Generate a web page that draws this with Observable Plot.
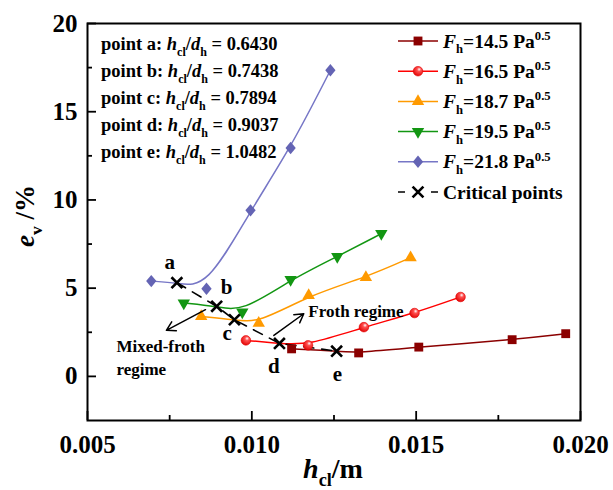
<!DOCTYPE html>
<html><head><meta charset="utf-8">
<script src="https://cdn.jsdelivr.net/npm/d3@7"></script>
<script src="https://cdn.jsdelivr.net/npm/@observablehq/plot@0.6"></script>
<style>
body{margin:0;background:#fff}
g[aria-label$="tick label"] text, g[aria-label$="tick label"]{font-weight:bold}
</style>
</head><body><div id="chart"></div>
<script>
// ---- data ----
const fhLabels = ["14.5", "16.5", "18.7", "19.5", "21.8"];
const hcl_145 = [0.01121, 0.01325, 0.01508, 0.01792, 0.01955];
const ev_145  = [1.56, 1.33, 1.66, 2.08, 2.42];
const hcl_165 = [0.00982, 0.01171, 0.01341, 0.01495, 0.01635];
const ev_165  = [2.04, 1.76, 2.79, 3.59, 4.50];
const hcl_187 = [0.00846, 0.01021, 0.01173, 0.01347, 0.01483];
const ev_187  = [3.40, 3.02, 4.59, 5.61, 6.73];
const hcl_195 = [0.00793, 0.00971, 0.01118, 0.01260, 0.01394];
const ev_195  = [4.16, 3.65, 5.48, 6.79, 8.09];
const hcl_218 = [0.00694, 0.00862, 0.00996, 0.01118, 0.01239];
const ev_218  = [5.40, 4.97, 9.41, 12.94, 17.35];

const critLabels = ["a", "b", "c", "d", "e"];
const critRatio  = ["0.6430", "0.7438", "0.7894", "0.9037", "1.0482"];
const critHcl    = [0.00772, 0.00893, 0.00947, 0.01084, 0.01258];
const critEv     = [5.31, 3.97, 3.21, 1.87, 1.43];
const critSeries = ["21.8", "19.5", "18.7", "16.5", "14.5"];

const labelHcl = [0.00750, 0.00923, 0.00925, 0.01067, 0.01260];
const labelEv  = [6.45, 5.03, 2.45, 0.57, 0.11];

const regimeText = ["Mixed-froth\nregime", "Froth regime"];
const regimeHcl  = [0.00588, 0.01172];
const regimeEv   = [1.13, 3.78];

const arrowHcl1 = [0.00859, 0.01067];
const arrowEv1  = [3.78, 2.32];
const arrowHcl2 = [0.00740, 0.01158];
const arrowEv2  = [2.61, 3.55];

const xMajor = [0.005, 0.010, 0.015, 0.020];
const xMinor = [0.0075, 0.0125, 0.0175];
const yMajor = [0, 5, 10, 15, 20];
const yMinor = [2.5, 7.5, 12.5, 17.5];

// ---- styles ----
const colors  = ["#8B0000", "#FF0000", "#FF9A00", "#129612", "#7676C6"];
const fills   = ["#8B0000", "url(#redBall)", "#FF9A00", "#129612", "#6464B4"];
const SERIF = "'Liberation Serif','Times New Roman',serif";

const triDown = {draw(ctx, size){ const y = Math.sqrt(size/(Math.sqrt(3)*3)); ctx.moveTo(0, y*2); ctx.lineTo(-Math.sqrt(3)*y, -y); ctx.lineTo(Math.sqrt(3)*y, -y); ctx.closePath(); }};
const diamond = {draw(ctx, size){ const s = Math.sqrt(size); const w = s*0.58, h = s*0.70; ctx.moveTo(0,-h); ctx.lineTo(w,0); ctx.lineTo(0,h); ctx.lineTo(-w,0); ctx.closePath(); }};
const symbols = [d3.symbolSquare, d3.symbolCircle, d3.symbolTriangle, triDown, diamond];
const radii   = [5, 4.8, 4.6, 4.6, 5];

const hclAll = [hcl_145, hcl_165, hcl_187, hcl_195, hcl_218];
const evAll  = [ev_145, ev_165, ev_187, ev_195, ev_218];

const seriesPts = fhLabels.map((f, i) => hclAll[i].map((x, j) => ({fh: f, x, y: evAll[i][j]})));
const crit = critLabels.map((l, i) => ({label: l, x: critHcl[i], y: critEv[i], fh: critSeries[i]}));
// fitted curve passes through its critical point
const curvePts = seriesPts.map((pts, i) => [...pts, ...crit.filter(c => c.fh === fhLabels[i])].sort((a, b) => a.x - b.x));

const labels = critLabels.map((l, i) => ({t: l, x: labelHcl[i], y: labelEv[i]}));
const regimes = regimeText.map((t, i) => ({t, x: regimeHcl[i], y: regimeEv[i]}));
const arrows = arrowHcl1.map((x, i) => ({x1: x, y1: arrowEv1[i], x2: arrowHcl2[i], y2: arrowEv2[i]}));

const marks = [
  Plot.axisX({ticks: xMajor, tickSize: 0, tickPadding: 15, tickFormat: d3.format(".3f"), fontSize: 25, fontWeight: "bold", label: null}),
  Plot.axisY({ticks: yMajor, tickSize: 0, tickPadding: 10, fontSize: 25, fontWeight: "bold", label: null}),
  Plot.ruleX(xMajor, {x: d => d, insetTop: 397 - 9, stroke: "black", strokeWidth: 1.8}),
  Plot.ruleX(xMinor, {x: d => d, insetTop: 397 - 5, stroke: "black", strokeWidth: 1.8}),
  Plot.ruleY(yMajor, {y: d => d, insetRight: 493 - 9, stroke: "black", strokeWidth: 1.8}),
  Plot.ruleY(yMinor, {y: d => d, insetRight: 493 - 5, stroke: "black", strokeWidth: 1.8}),
];
curvePts.forEach((pts, i) => marks.push(Plot.line(pts, {x: "x", y: "y", curve: "basis", stroke: colors[i], strokeWidth: 1.5})));
marks.push(Plot.line(crit, {x: "x", y: "y", stroke: "black", strokeWidth: 1.6, strokeDasharray: "10,8"}));
seriesPts.forEach((pts, i) => marks.push(Plot.dot(pts, {x: "x", y: "y", symbol: symbols[i], r: radii[i], fill: fills[i], stroke: i === 1 ? "#E00000" : "none", strokeWidth: 0.6})));
marks.push(Plot.dot(crit, {x: "x", y: "y", symbol: "times", r: 5, stroke: "black", strokeWidth: 2.6}));
marks.push(Plot.arrow(arrows, {x1: "x1", y1: "y1", x2: "x2", y2: "y2", stroke: "black", strokeWidth: 1.5, headLength: 10}));
marks.push(Plot.text(labels, {x: "x", y: "y", text: "t", fontSize: 21, fontWeight: "bold", fill: "black"}));
marks.push(Plot.text(regimes, {x: "x", y: "y", text: "t", fontSize: 17, fontWeight: "bold", fill: "black", textAnchor: "start", lineHeight: 1.3}));
marks.push(Plot.frame({stroke: "black", strokeWidth: 2}));

const plot = Plot.plot({
  width: 613, height: 490,
  marginLeft: 87, marginRight: 33, marginTop: 23, marginBottom: 70,
  x: {domain: [0.005, 0.020]},
  y: {domain: [-2.5, 20]},
  style: {fontFamily: SERIF, background: "white", color: "black", overflow: "visible"},
  marks
});
document.getElementById("chart").appendChild(plot);

const svg = d3.select(plot);
const defs = svg.insert("defs", ":first-child");
const grad = defs.append("radialGradient").attr("id", "redBall").attr("cx", "0.6").attr("cy", "0.35").attr("r", "0.7").attr("fx", "0.62").attr("fy", "0.3");
grad.append("stop").attr("offset", "0").attr("stop-color", "#ffffff");
grad.append("stop").attr("offset", "0.3").attr("stop-color", "#ff5050");
grad.append("stop").attr("offset", "1").attr("stop-color", "#e00000");

function rich(g, x, y, parts, size, anchor = "start", transform = null) {
  const t = g.append("text").attr("x", x).attr("y", y).attr("font-size", size).attr("font-weight", "bold")
    .attr("font-family", SERIF).attr("fill", "black").attr("text-anchor", anchor);
  if (transform) t.attr("transform", transform);
  let shift = 0;
  for (const p of parts) {
    const ts = t.append("tspan").text(p.t);
    const target = p.sub ? size * 0.3 : p.sup ? -size * 0.4 : 0;
    const dy = target - shift; shift = target;
    if (dy) ts.attr("dy", dy);
    if (p.sub || p.sup) ts.attr("font-size", size * 0.65);
    if (p.i) ts.attr("font-style", "italic");
  }
  return t;
}

const ann = svg.append("g");
// top-left info
critLabels.forEach((l, i) => {
  rich(ann, 101, 50 + 27 * i, [{t: `point ${l}: `}, {t: "h", i: 1}, {t: "cl", sub: 1}, {t: "/"}, {t: "d", i: 1}, {t: "h", sub: 1}, {t: ` = ${critRatio[i]}`}], 18.5);
});
// legend
fhLabels.forEach((f, i) => {
  const cy = 41 + 30.2 * i;
  ann.append("line").attr("x1", 398).attr("x2", 438).attr("y1", cy).attr("y2", cy).attr("stroke", colors[i]).attr("stroke-width", 1.5);
  ann.append("path").attr("d", d3.symbol(symbols[i], Math.PI * radii[i] * radii[i])()).attr("transform", `translate(418,${cy})`)
    .attr("fill", fills[i]).attr("stroke", i === 1 ? "#E00000" : "none").attr("stroke-width", 0.6);
  rich(ann, 443, cy + 6.5, [{t: "F", i: 1}, {t: "h", sub: 1}, {t: `=${f} Pa`}, {t: "0.5", sup: 1}], 19.5);
});
{
  const cy = 41 + 30.2 * 5;
  ann.append("line").attr("x1", 398).attr("x2", 438).attr("y1", cy).attr("y2", cy).attr("stroke", "black").attr("stroke-width", 1.6).attr("stroke-dasharray", "7,26,7");
  ann.append("path").attr("d", d3.symbol(d3.symbolTimes, Math.PI * 25)()).attr("transform", `translate(418,${cy})`).attr("fill", "none").attr("stroke", "black").attr("stroke-width", 2.6);
  rich(ann, 443, cy + 6.5, [{t: "Critical points"}], 19.5);
}
// axis titles
rich(ann, 0, 0, [{t: "e", i: 1}, {t: "v", sub: 1}, {t: " /%"}], 27, "middle", "translate(34,216) rotate(-90)");
rich(ann, 333, 478, [{t: "h", i: 1}, {t: "cl", sub: 1}, {t: "/m"}], 28, "middle");
</script>
</body></html>
